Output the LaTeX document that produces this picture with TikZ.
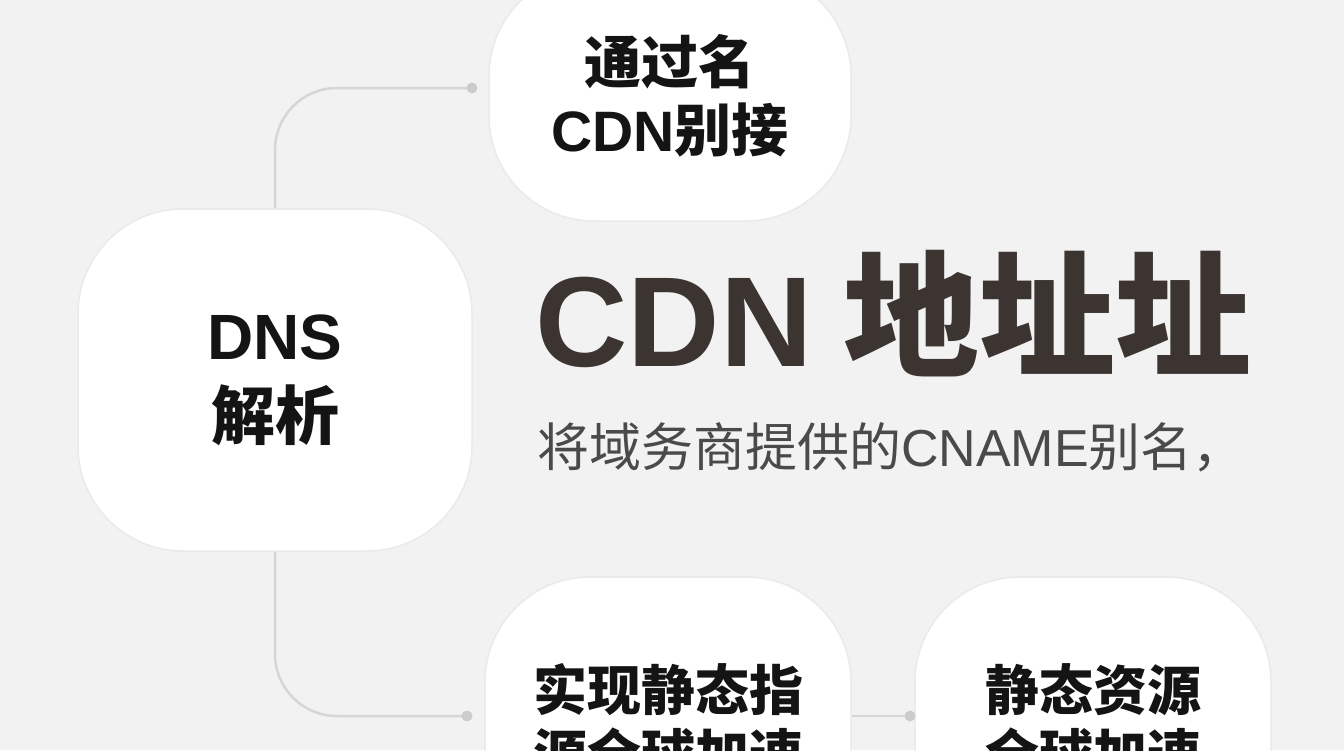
\documentclass[tikz,border=0pt]{standalone}
\usepackage{fontspec}
\newfontfamily\cjk{Noto Sans CJK SC}
\newfontfamily\lat{Liberation Sans}
\definecolor{bgcol}{HTML}{F2F2F2}
\definecolor{nodetext}{HTML}{141414}
\definecolor{titlecol}{HTML}{3B3431}
\definecolor{subcol}{HTML}{4A4A4A}
\definecolor{conncol}{HTML}{D6D6D6}
\definecolor{dotcol}{HTML}{CCCCCC}
\definecolor{blobedge}{HTML}{EAEAEA}
\begin{document}
\begin{tikzpicture}[x=1pt,y=-1pt,
  blob/.style={fill=white, draw=blobedge, line width=1.5pt, rounded corners=105pt,
    inner sep=0pt, align=center, text=nodetext},
  conn/.style={draw=conncol, line width=2.5pt, rounded corners=62pt},
  dotc/.style={circle, fill=dotcol, inner sep=0pt, minimum size=11pt}]
\fill[bgcol] (0,0) rectangle (1344,750);
\useasboundingbox (0,0) rectangle (1344,750);

\coordinate (c1) at (472,88);
\coordinate (c2) at (467,716);
\coordinate (c3) at (910,716);

\node[blob, minimum width=362pt, minimum height=250pt,
  font=\cjk\bfseries\fontsize{57}{68}\selectfont] (top) at (670,96)
  {通过名\\{\lat\bfseries CDN}别接};
\node[blob, minimum width=394pt, minimum height=342pt,
  font=\cjk\bfseries\fontsize{64}{80}\selectfont] (dns) at (275,380)
  {{\lat\bfseries DNS}\\解析};
\node[blob, minimum width=366pt, minimum height=290pt,
  font=\cjk\bfseries\fontsize{54}{64}\selectfont] (bl) at (668,722)
  {实现静态指\\源全球加速};
\node[blob, minimum width=356pt, minimum height=290pt,
  font=\cjk\bfseries\fontsize{54}{64}\selectfont] (br) at (1093,722)
  {静态资源\\全球加速};

\draw[conn] (dns.north) |- (c1);
\draw[conn] (dns.south) |- (c2);
\draw[conn] (bl.east |- c3) -- (c3);
\node[dotc] (d1) at (c1) {};
\node[dotc] (d2) at (c2) {};
\node[dotc] (d3) at (c3) {};

\node[anchor=west, inner sep=0pt, text=titlecol, font=\cjk\bfseries\fontsize{136}{140}\selectfont] (title) at (535,314) {{\lat\bfseries\fontsize{128}{140}\selectfont CDN} 地址址};
\node[anchor=west, inner sep=0pt, text=subcol, font=\cjk\fontsize{52}{60}\selectfont] (sub) at (537,447) {将域务商提供的{\lat CNAME}别名，};
\end{tikzpicture}
\end{document}
